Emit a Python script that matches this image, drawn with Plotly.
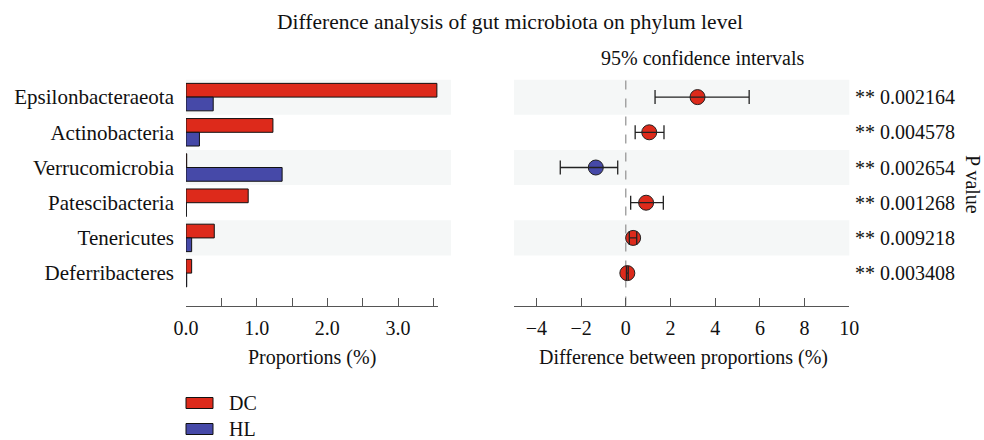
import plotly.graph_objects as go

categories = ["Epsilonbacteraeota", "Actinobacteria", "Verrucomicrobia",
              "Patescibacteria", "Tenericutes", "Deferribacteres"]
dc_prop = [3.55, 1.23, 0.01, 0.88, 0.40, 0.08]
hl_prop = [0.385, 0.19, 1.36, 0.005, 0.08, 0.01]
diff = [3.21, 1.05, -1.34, 0.91, 0.33, 0.07]
ci_low = [1.31, 0.42, -2.93, 0.22, 0.16, 0.03]
ci_high = [5.52, 1.71, -0.36, 1.68, 0.49, 0.11]
p_values = ["0.002164", "0.004578", "0.002654", "0.001268", "0.009218", "0.003408"]
groups = ["DC", "HL"]
left_ticks = [0, 0.5, 1.0, 1.5, 2.0, 2.5, 3.0, 3.5]
left_ticktext = ["0.0", "", "1.0", "", "2.0", "", "3.0", ""]
right_ticks = [-5, -4, -2, 0, 2, 4, 6, 8, 10]
right_ticktext = ["", "\u22124", "\u22122", "0", "2", "4", "6", "8", "10"]

RED = "#dd2a1b"
BLUE = "#4649a8"
FONT = "Liberation Serif"
FS = 20
W, H = 984, 440

idx = list(range(len(categories)))

fig = go.Figure()
fig.add_trace(go.Bar(y=idx, x=dc_prop, orientation="h", name=groups[0],
                     marker=dict(color=RED, line=dict(color="#111", width=1)),
                     xaxis="x", yaxis="y", showlegend=False))
fig.add_trace(go.Bar(y=idx, x=hl_prop, orientation="h", name=groups[1],
                     marker=dict(color=BLUE, line=dict(color="#111", width=1)),
                     xaxis="x", yaxis="y", showlegend=False))

pt_colors = [RED if d > 0 else BLUE for d in diff]
fig.add_trace(go.Scatter(x=diff, y=idx, mode="markers", xaxis="x2", yaxis="y2",
                         marker=dict(size=15, color=pt_colors, line=dict(color="#222", width=1)),
                         showlegend=False))
fig.add_trace(go.Scatter(x=diff, y=idx, mode="markers", xaxis="x2", yaxis="y2",
                         marker=dict(size=1, color="rgba(0,0,0,0)"),
                         error_x=dict(type="data", symmetric=False,
                                      array=[h - d for h, d in zip(ci_high, diff)],
                                      arrayminus=[d - l for d, l in zip(diff, ci_low)],
                                      color="#222", thickness=1.3, width=7),
                         showlegend=False))

def px_x(p):
    return p / W

def px_y(p):
    return 1 - p / H

ydom = [px_y(305.5), px_y(79.5)]
yrange = [5.92, -0.5]

shapes = []
for i in range(0, len(categories), 2):
    shapes.append(dict(type="rect", xref="x domain", yref="y", x0=0, x1=1.05,
                       y0=i - 0.5, y1=i + 0.5, fillcolor="#f5f7f7",
                       line=dict(width=0), layer="below"))
    shapes.append(dict(type="rect", xref="x2 domain", yref="y2", x0=0, x1=1,
                       y0=i - 0.5, y1=i + 0.5, fillcolor="#f5f7f7",
                       line=dict(width=0), layer="below"))
shapes.append(dict(type="line", xref="x2", yref="y2 domain", x0=0, x1=0, y0=0, y1=1,
                   line=dict(color="#999", width=1.3, dash="dash"), layer="below"))

# legend swatches
leg_y = [403, 429]
for g, c, yy in zip(groups, [RED, BLUE], leg_y):
    shapes.append(dict(type="rect", xref="paper", yref="paper",
                       x0=px_x(186), x1=px_x(213), y0=px_y(yy - 5.5), y1=px_y(yy + 5.5),
                       fillcolor=c, line=dict(color="#111", width=1)))

txt = dict(family=FONT, size=FS, color="#111")
annotations = []
for i, p in enumerate(p_values):
    annotations.append(dict(xref="x2 domain", yref="y2", x=1.011, y=i, text="** " + p,
                            showarrow=False, xanchor="left", yanchor="middle", font=txt))
for g, yy in zip(groups, leg_y):
    annotations.append(dict(xref="paper", yref="paper", x=px_x(227), y=px_y(yy), text=g,
                            showarrow=False, xanchor="left", yanchor="middle", font=txt))
annotations += [
    dict(xref="paper", yref="paper", x=px_x(510), y=px_y(22),
         text="Difference analysis of gut microbiota on phylum level", showarrow=False,
         xanchor="center", yanchor="middle", font=dict(family=FONT, size=21.5, color="#111")),
    dict(xref="paper", yref="paper", x=px_x(702), y=px_y(58),
         text="95% confidence intervals", showarrow=False,
         xanchor="center", yanchor="middle", font=txt),
    dict(xref="paper", yref="paper", x=px_x(312), y=px_y(357),
         text="Proportions (%)", showarrow=False,
         xanchor="center", yanchor="middle", font=txt),
    dict(xref="paper", yref="paper", x=px_x(683), y=px_y(357),
         text="Difference between proportions (%)", showarrow=False,
         xanchor="center", yanchor="middle", font=txt),
    dict(xref="paper", yref="paper", x=px_x(973), y=px_y(184),
         text="P value", showarrow=False, textangle=90,
         xanchor="center", yanchor="middle", font=txt),
]

axis_common = dict(showgrid=False, zeroline=False, showline=True, linecolor="#555",
                   linewidth=1, ticks="inside", ticklen=8, tickcolor="#555", tickwidth=1,
                   tickfont=txt, ticklabelstandoff=4, automargin=False,
                   fixedrange=True)

fig.update_layout(
    width=W, height=H, margin=dict(l=0, r=0, t=0, b=0),
    paper_bgcolor="white", plot_bgcolor="rgba(0,0,0,0)",
    barmode="group", bargap=0.22, bargroupgap=0,
    xaxis=dict(domain=[px_x(186), px_x(438.3)], range=[0, 3.57],
               tickvals=left_ticks, ticktext=left_ticktext, anchor="y", **axis_common),
    yaxis=dict(domain=ydom, range=yrange, tickvals=idx, ticktext=categories,
               showgrid=False, zeroline=False, showline=False, ticks="",
               tickfont=dict(family=FONT, size=21, color="#111"), ticklabelstandoff=11,
               automargin=False, anchor="x", fixedrange=True),
    xaxis2=dict(domain=[px_x(514), px_x(849.3)], range=[-5, 10],
                tickvals=right_ticks, ticktext=right_ticktext, anchor="y2", **axis_common),
    yaxis2=dict(domain=ydom, range=yrange, showticklabels=False, showgrid=False,
                zeroline=False, showline=False, ticks="", anchor="x2", automargin=False,
                fixedrange=True),
    shapes=shapes, annotations=annotations,
    font=txt,
)

fig.write_html("out.html")
